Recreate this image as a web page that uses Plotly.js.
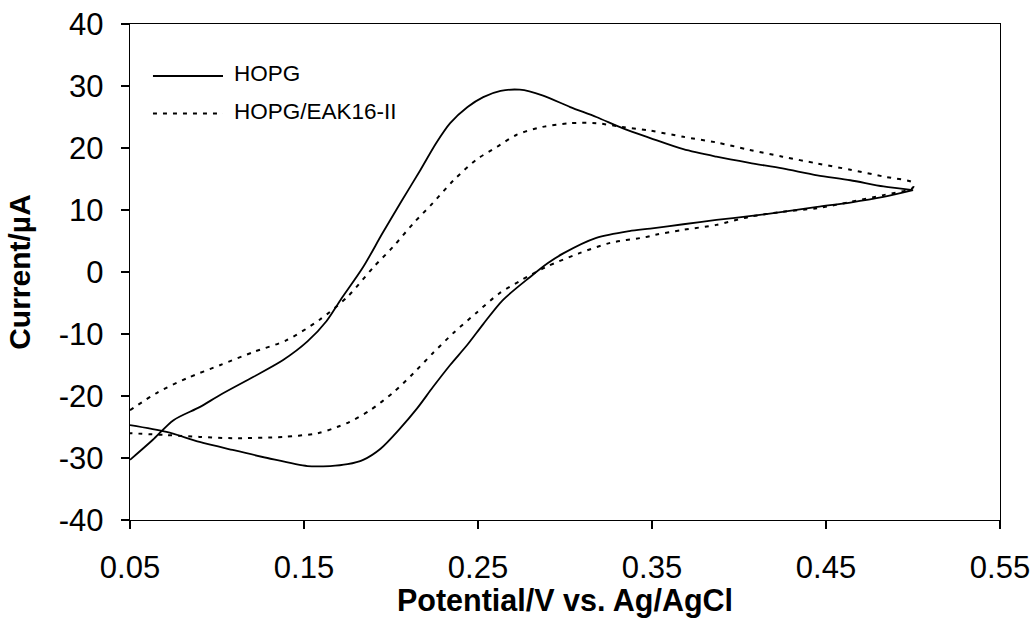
<!DOCTYPE html>
<html>
<head>
<meta charset="utf-8">
<script src="https://cdn.plot.ly/plotly-3.0.1.min.js"></script>
<style>
  html, body { margin: 0; padding: 0; background: #fff; }
  #chart { width: 1033px; height: 618px; }
</style>
</head>
<body>
<div id="chart"></div>
<script>
// Cyclic voltammograms: forward (anodic) sweep 0.05 -> 0.50 V, then reverse sweep back to 0.05 V.

// HOPG electrode
const hopgForwardE = [0.050, 0.063, 0.075, 0.090, 0.102, 0.121, 0.138, 0.152, 0.163, 0.171,
  0.184, 0.195, 0.206, 0.217, 0.226, 0.234, 0.244, 0.253, 0.263, 0.274,
  0.287, 0.303, 0.318, 0.333, 0.349, 0.368, 0.387, 0.406, 0.425, 0.445, 0.464, 0.483, 0.500];
const hopgForwardI = [-30.3, -27.1, -23.9, -21.8, -19.8, -16.9, -14.2, -11.2, -7.9, -4.5,
  0.8, 6.2, 11.4, 16.5, 20.8, 24.0, 26.6, 28.2, 29.2, 29.4,
  28.5, 26.6, 25.0, 23.2, 21.6, 19.8, 18.6, 17.6, 16.7, 15.6, 14.8, 13.8, 13.2];
const hopgReverseE = [0.500, 0.483, 0.464, 0.445, 0.425, 0.406, 0.387, 0.368, 0.349, 0.337,
  0.318, 0.299, 0.290, 0.280, 0.264, 0.253, 0.244, 0.234, 0.224, 0.215,
  0.205, 0.194, 0.184, 0.175, 0.165, 0.152, 0.129, 0.109, 0.090, 0.071, 0.050];
const hopgReverseI = [13.2, 12.1, 11.2, 10.5, 9.7, 9.0, 8.4, 7.7, 7.0, 6.6,
  5.5, 3.0, 1.4, -0.8, -4.6, -8.4, -11.7, -15.0, -18.6, -22.0,
  -25.3, -28.5, -30.3, -31.0, -31.3, -31.3, -30.0, -28.7, -27.4, -25.8, -24.7];

// HOPG modified with EAK16-II
const eakForwardE = [0.050, 0.066, 0.083, 0.102, 0.121, 0.140, 0.159, 0.175, 0.190, 0.201,
  0.213, 0.224, 0.236, 0.249, 0.261, 0.272, 0.287, 0.303, 0.318, 0.333,
  0.349, 0.368, 0.387, 0.406, 0.425, 0.445, 0.464, 0.483, 0.500];
const eakForwardI = [-22.3, -19.4, -17.1, -15.0, -12.9, -11.0, -7.7, -4.0, 0.8, 4.0,
  7.9, 11.1, 14.8, 18.1, 20.2, 22.1, 23.4, 24.0, 24.0, 23.4,
  22.8, 21.8, 20.9, 19.7, 18.6, 17.5, 16.5, 15.4, 14.4];
const eakReverseE = [0.500, 0.483, 0.464, 0.445, 0.425, 0.406, 0.387, 0.368, 0.352, 0.346,
  0.326, 0.308, 0.289, 0.275, 0.262, 0.249, 0.236, 0.224, 0.213, 0.201,
  0.188, 0.176, 0.169, 0.158, 0.138, 0.109, 0.090, 0.071, 0.050];
const eakReverseI = [13.6, 12.4, 11.3, 10.3, 9.7, 8.9, 7.6, 6.8, 6.0, 5.6,
  4.7, 3.0, 0.8, -1.3, -3.5, -6.6, -9.8, -13.1, -16.3, -19.5,
  -22.3, -24.2, -25.0, -26.0, -26.6, -26.8, -26.6, -26.3, -26.0];

const seriesNames = ['HOPG', 'HOPG/EAK16-II'];
const xTicks = [0.05, 0.15, 0.25, 0.35, 0.45, 0.55];
const xTickText = ['0.05', '0.15', '0.25', '0.35', '0.45', '0.55'];
const yTicks = [-40, -30, -20, -10, 0, 10, 20, 30, 40];
const yTickText = ['-40', '-30', '-20', '-10', '0', '10', '20', '30', '40'];

const FONT = 'Liberation Sans, Arial, Helvetica, sans-serif';
const solidLine = { color: '#000', width: 1.8, shape: 'spline', smoothing: 0.8 };
const dottedLine = { color: '#000', width: 2, dash: '4px,6px', shape: 'spline', smoothing: 0.8 };

const traces = [
  {
    x: hopgForwardE.concat(hopgReverseE),
    y: hopgForwardI.concat(hopgReverseI),
    name: seriesNames[0], type: 'scatter', mode: 'lines',
    line: solidLine, showlegend: false, hoverinfo: 'x+y'
  },
  {
    x: eakForwardE.concat(eakReverseE),
    y: eakForwardI.concat(eakReverseI),
    name: seriesNames[1], type: 'scatter', mode: 'lines',
    line: dottedLine, showlegend: false, hoverinfo: 'x+y'
  }
];

// Key in the upper-left corner of the plot area: long line samples with labels.
const keyX0 = 0.0264, keyX1 = 0.1069, keyTextX = 0.1172;
const keyRows = [0.8952, 0.8196];
const keyStyles = [
  { color: '#000', width: 1.8 },
  { color: '#000', width: 2, dash: '4px,6px' }
];

const shapes = keyRows.map((yy, i) => ({
  type: 'line', xref: 'paper', yref: 'paper',
  x0: keyX0, x1: keyX1, y0: yy, y1: yy,
  line: keyStyles[i]
}));
const annotations = keyRows.map((yy, i) => ({
  xref: 'paper', yref: 'paper', x: keyTextX, y: yy + 0.004,
  xanchor: 'left', yanchor: 'middle', showarrow: false,
  text: seriesNames[i], font: { family: FONT, size: 22.5, color: '#000' }
}));

const layout = {
  width: 1033, height: 618,
  margin: { l: 130, r: 33, t: 24, b: 98 },
  paper_bgcolor: '#fff', plot_bgcolor: '#fff',
  font: { family: FONT, color: '#000' },
  showlegend: false,
  xaxis: {
    range: [0.05, 0.55], tickvals: xTicks, ticktext: xTickText,
    showgrid: false, zeroline: false,
    showline: true, linecolor: '#000', linewidth: 1.3, mirror: true,
    ticks: 'outside', ticklen: 8, tickwidth: 1.3, tickcolor: '#000',
    tickfont: { family: FONT, size: 31, color: '#000' },
    ticklabelstandoff: 11,
    title: { text: '<b>Potential/V vs. Ag/AgCl</b>', font: { family: FONT, size: 30.5, color: '#000' }, standoff: 9 },
    automargin: false
  },
  yaxis: {
    range: [-40, 40], tickvals: yTicks, ticktext: yTickText,
    showgrid: false, zeroline: false,
    showline: true, linecolor: '#000', linewidth: 1.3, mirror: true,
    ticks: 'outside', ticklen: 8, tickwidth: 1.3, tickcolor: '#000',
    tickfont: { family: FONT, size: 31, color: '#000' },
    ticklabelstandoff: 11,
    title: { text: '<b>Current/µA</b>', font: { family: FONT, size: 30, color: '#000' }, standoff: 19 },
    automargin: false
  },
  shapes: shapes,
  annotations: annotations
};

Plotly.newPlot('chart', traces, layout, { displayModeBar: false, staticPlot: true });
</script>
</body>
</html>
